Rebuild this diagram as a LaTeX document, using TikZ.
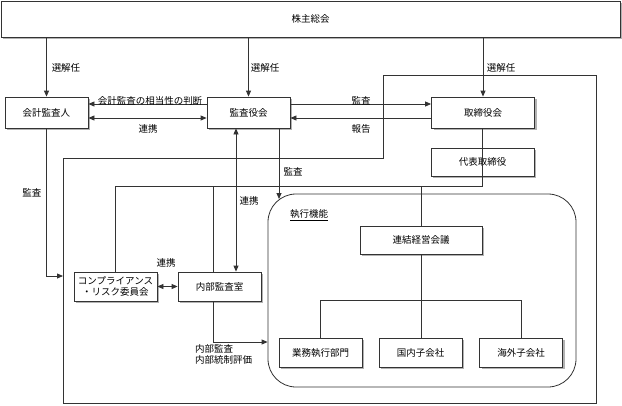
\documentclass[tikz,border=0pt]{standalone}
\usepackage{fontspec}
\setmainfont{Noto Sans CJK JP}
\usetikzlibrary{arrows.meta,shadows,calc}
\tikzset{
  box/.style={draw=black!80, line width=0.8pt, fill=white, inner sep=0pt,
    drop shadow={shadow xshift=2pt, shadow yshift=-2pt, fill=black!30, opacity=1},
    align=center, font=\fontsize{9.5}{10.5}\selectfont},
  conn/.style={draw=black!80, line width=0.8pt},
  arr/.style={conn, -{Triangle[length=6pt,width=5pt]}},
  darr/.style={conn, {Triangle[length=6pt,width=5pt]}-{Triangle[length=6pt,width=5pt]}},
  lbl/.style={inner sep=0pt, font=\fontsize{9.5}{12}\selectfont}
}
\begin{document}
\begin{tikzpicture}[x=1pt,y=-1pt]
\useasboundingbox (0,0) rectangle (622,405);
% outer polygon (whole company)
\draw[conn] (63,158) -- (383,158) -- (383,75) -- (596,75) -- (596,403) -- (63,403) -- cycle;
% execution rounded box
\node[draw=black!80, line width=0.8pt, rounded corners=28pt, minimum width=308pt, minimum height=193pt, inner sep=0pt] (exec) at (422,290.5) {};
\node[lbl] (execlbl) at (309,215) {\underline{執行機能}};

% boxes
\node[box, minimum width=619pt, minimum height=36pt] (sh) at (310.5,19) {株主総会};
\node[box, minimum width=83pt, minimum height=31pt] (kaikei) at (46.5,112.5) {会計監査人};
\node[box, minimum width=83pt, minimum height=31pt] (kansa) at (248.5,112.5) {監査役会};
\node[box, minimum width=103pt, minimum height=31pt] (tori) at (483,112.5) {取締役会};
\node[box, minimum width=103pt, minimum height=28pt] (daihyo) at (482.5,162) {代表取締役};
\node[box, minimum width=122pt, minimum height=28pt] (renketsu) at (421,240) {連結経営会議};
\node[box, minimum width=83pt, minimum height=29pt] (comp) at (115.5,286.5) {コンプライアンス\\・リスク委員会};
\node[box, minimum width=83pt, minimum height=29pt] (naibu) at (219.5,286.5) {内部監査室};
\node[box, minimum width=83pt, minimum height=29pt] (gyomu) at (320.5,352.5) {業務執行部門};
\node[box, minimum width=83pt, minimum height=29pt] (kokunai) at (420.5,352.5) {国内子会社};
\node[box, minimum width=83pt, minimum height=29pt] (kaigai) at (521,352.5) {海外子会社};

% helper coordinates
\coordinate (ya) at (0,186);
\coordinate (yb) at (0,300);
\coordinate (yc) at (0,342);
\coordinate (yd) at (0,276);
\coordinate (xa) at (213,0);
\coordinate (xb) at (236,0);
\coordinate (xc) at (279,0);
\coordinate (xd) at (421,0);
\coordinate (kansahit) at (279,199);
\coordinate (outerleft) at (63,276);

% election arrows
\draw[arr] (kaikei.north |- sh.south) -- (kaikei.north);
\draw[arr] (kansa.north |- sh.south) -- (kansa.north);
\draw[arr] (tori.north |- sh.south) -- (tori.north);
\node[lbl] at (66,68) {選解任};
\node[lbl] at (265,68) {選解任};
\node[lbl] at (501,68) {選解任};

% kaikei <-> kansa
\draw[arr] ([yshift=8.5pt]kansa.west) -- ([yshift=8.5pt]kaikei.east);
\draw[darr] ([yshift=-5.5pt]kaikei.east) -- ([yshift=-5.5pt]kansa.west);
\node[lbl] at (150,101) {会計監査の相当性の判断};
\node[lbl] at (148,129) {連携};

% kansa <-> tori
\draw[arr] ([yshift=8.5pt]kansa.east) -- ([yshift=8.5pt]tori.west);
\draw[arr] ([yshift=-5.5pt]tori.west) -- ([yshift=-5.5pt]kansa.east);
\node[lbl] at (361,101) {監査};
\node[lbl] at (361,129) {報告};

% tori - daihyo
\draw[conn] (tori.south -| daihyo.south) -- (daihyo.south);
% daihyo tree
\draw[conn] (daihyo.south) -- (daihyo.south |- ya) -- (comp.north |- ya) -- (comp.north);
\draw[conn] (xa |- ya) -- (xa |- naibu.north);
\draw[conn] (xd |- ya) -- (renketsu.north);
\draw[conn] (renketsu.south) -- (kokunai.north -| xd);
\draw[conn] (gyomu.north) -- (gyomu.north |- yb) -- (kaigai.north |- yb) -- (kaigai.north);

% kansa - naibu coordination
\draw[darr] (xb |- kansa.south) -- (xb |- naibu.north);
\node[lbl] at (249,201) {連携};
% kansa audit of exec
\draw[arr] (xc |- kansa.south) -- (kansahit);
\node[lbl] at (293,172) {監査};

% kaikei audit
\draw[arr] (kaikei.south) -- (kaikei.south |- yd) -- (outerleft);
\node[lbl] at (32,193) {監査};

% comp <-> naibu
\draw[darr] (comp.east) -- (naibu.west);
\node[lbl] at (166,263) {連携};

% naibu -> exec
\draw[arr] (xa |- naibu.south) -- (xa |- yc) -- (exec.west |- yc);
\node[lbl, anchor=north west, align=left, font=\fontsize{9.5}{11.5}\selectfont] at (195,344) {内部監査\\内部統制評価};
\end{tikzpicture}
\end{document}
